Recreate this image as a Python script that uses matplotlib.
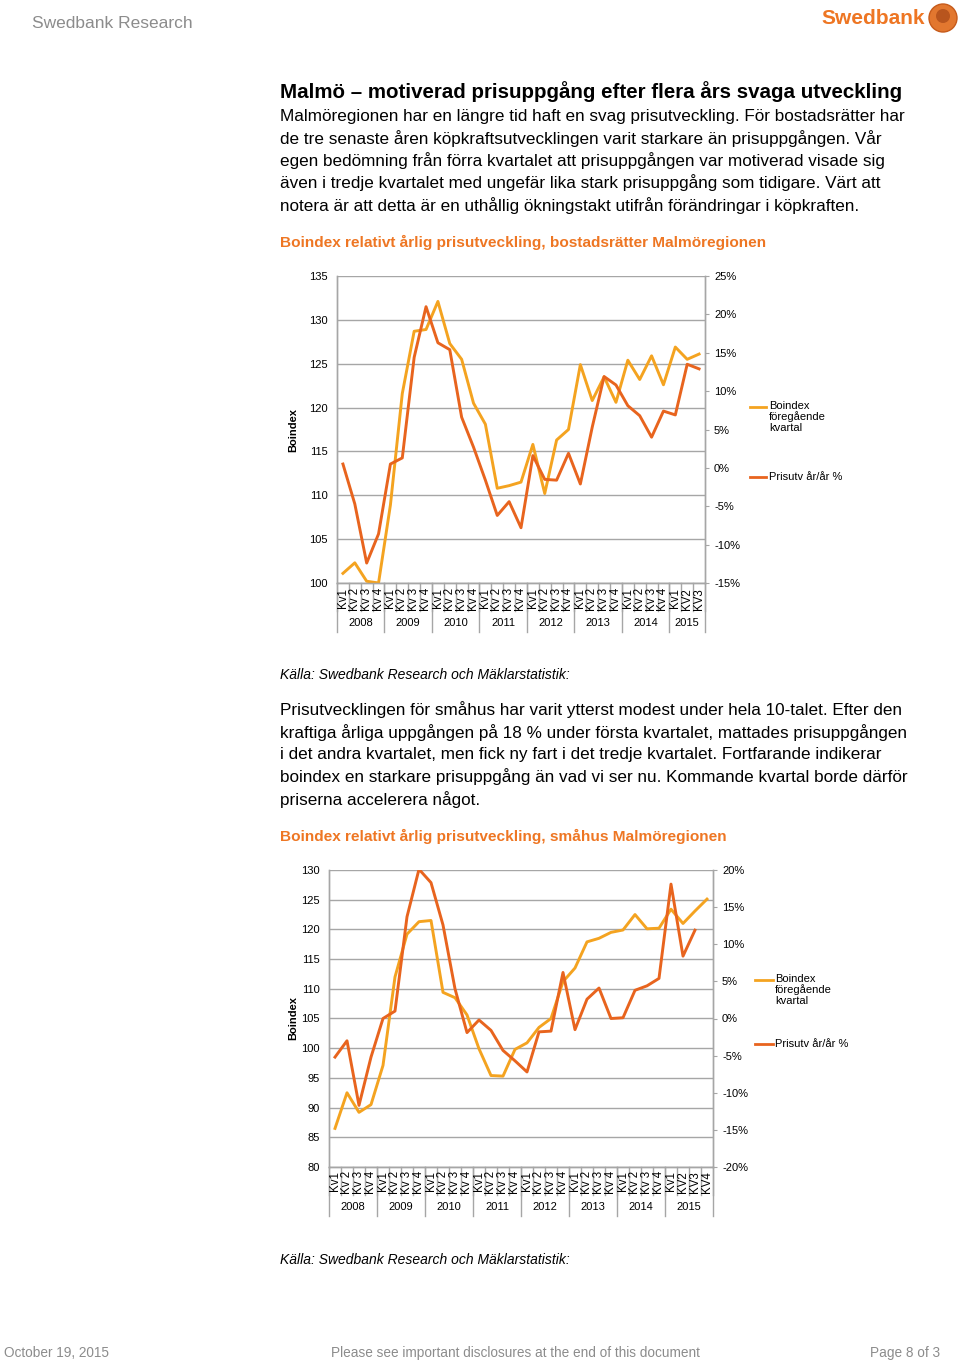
import matplotlib
matplotlib.use("Agg")
import matplotlib.pyplot as plt
from matplotlib.lines import Line2D
from matplotlib.patches import Circle
import matplotlib.transforms as mtransforms

plt.rcParams['font.family'] = ['Liberation Sans', 'DejaVu Sans']

W, H = 960, 1362
LIGHT = '#F4A320'
DARK = '#E8641E'
ORANGE_TXT = '#EE7623'
GRID = '#A6A6A6'

# ---------------- data ----------------
years = ['2008', '2009', '2010', '2011', '2012', '2013', '2014', '2015']
quarters1 = ['Kv1', 'Kv 2', 'Kv 3', 'Kv 4'] * 7 + ['Kv1', 'KV2', 'KV3']
quarters2 = ['Kv1', 'Kv 2', 'Kv 3', 'Kv 4'] * 7 + ['Kv1', 'KV2', 'KV3', 'KV4']
year_counts1 = [4, 4, 4, 4, 4, 4, 4, 3]
year_counts2 = [4, 4, 4, 4, 4, 4, 4, 4]

# Chart 1: bostadsrätter
boindex_br = [101.1, 102.3, 100.2, 100.0, 108.9, 121.6, 128.7, 128.9,
              132.1, 127.3, 125.5, 120.5, 118.1, 110.8, 111.1, 111.5,
              115.8, 110.2, 116.3, 117.5, 124.9, 120.8, 123.5, 120.6,
              125.4, 123.2, 125.9, 122.6, 126.9, 125.5, 126.1]
prisutv_br = [0.5, -4.7, -12.4, -8.6, 0.5, 1.3, 14.4, 21.0,
              16.3, 15.4, 6.6, 2.7, -1.6, -6.2, -4.4, -7.8,
              1.6, -1.5, -1.6, 1.9, -2.1, 5.3, 11.9, 10.8,
              8.1, 6.8, 4.0, 7.4, 6.9, 13.5, 12.9]

# Chart 2: småhus
boindex_sh = [86.5, 92.5, 89.2, 90.5, 97.1, 112.0, 119.2, 121.3,
              121.5, 109.4, 108.5, 105.6, 99.9, 95.4, 95.3, 99.8,
              100.9, 103.5, 105.0, 111.2, 113.5, 117.9, 118.5, 119.5,
              119.9, 122.5, 120.1, 120.2, 123.4, 121.0, 123.1, 125.1]
prisutv_sh = [-5.2, -3.0, -11.7, -5.2, 0.0, 1.0, 13.7, 20.1,
              18.3, 12.6, 4.0, -1.9, -0.2, -1.6, -4.3, -5.7,
              -7.2, -1.8, -1.7, 6.2, -1.5, 2.6, 4.1, 0.0,
              0.1, 3.8, 4.4, 5.4, 18.1, 8.4, 11.9]

left_ticks1 = [100, 105, 110, 115, 120, 125, 130, 135]
right_ticks1 = [-15, -10, -5, 0, 5, 10, 15, 20, 25]
left_ticks2 = [80, 85, 90, 95, 100, 105, 110, 115, 120, 125, 130]
right_ticks2 = [-20, -15, -10, -5, 0, 5, 10, 15, 20]

legend_labels = ['Boindex\nföregående\nkvartal', 'Prisutv år/år %']

# ---------------- helpers ----------------
fig = plt.figure(figsize=(W / 100, H / 100), dpi=100)


def fy(py):
    return 1 - py / H


def fx(px):
    return px / W


def ftext(px, py, s, **kw):
    fig.text(fx(px), fy(py), s, **kw)


def make_chart(rect_px, left_vals, right_vals, quarters, counts, lticks, rticks,
               kv_top, kv_sep_bot, year_y, year_sep_bot, ylabel_x):
    l, t, r, b = rect_px
    ax = fig.add_axes([fx(l), fy(b), fx(r) - fx(l), fy(t) - fy(b)])
    ax2 = ax.twinx()
    n = len(quarters)
    ax.set_xlim(-0.5, n - 0.5)
    ax.set_ylim(lticks[0], lticks[-1])
    ax2.set_ylim(rticks[0], rticks[-1])
    ax.set_yticks(lticks)
    ax.set_yticklabels([str(v) for v in lticks])
    ax2.set_yticks(rticks)
    ax2.set_yticklabels([f'{v}%' for v in rticks])
    ax.set_xticks([])
    for a in (ax, ax2):
        for s in a.spines.values():
            s.set_color(GRID)
            s.set_linewidth(1.0)
        a.spines['top'].set_visible(False)
    ax.tick_params(axis='y', length=0, pad=6.5, labelsize=8, colors='black')
    ax2.tick_params(axis='y', length=3, pad=3.5, labelsize=8, colors='black',
                    color=GRID, direction='out')
    ax.grid(axis='y', color=GRID, linewidth=1.0)
    ax.set_axisbelow(True)
    ax.set_ylabel('Boindex', fontsize=8, fontweight='bold')
    ax.yaxis.set_label_coords((ylabel_x + 5 - l) / (r - l), 0.5)
    xs = list(range(n))
    ax.plot(xs[:len(left_vals)], left_vals, color=LIGHT, lw=2.1, zorder=3)
    ax2.plot(xs[:len(right_vals)], right_vals, color=DARK, lw=2.1, zorder=3)
    ax.patch.set_visible(False)

    tr = mtransforms.blended_transform_factory(ax.transData, fig.transFigure)
    # category separators and labels
    for i in range(n + 1):
        ax.add_line(Line2D([i - 0.5, i - 0.5], [fy(b), fy(kv_sep_bot)],
                           transform=tr, color=GRID, lw=1.0, clip_on=False))
    for i, q in enumerate(quarters):
        ax.text(i, fy(kv_top), q, transform=tr, rotation=90, ha='center',
                va='top', fontsize=8.3)
    # year separators and labels
    pos = -0.5
    bounds = [pos]
    for c in counts:
        pos += c
        bounds.append(pos)
    for xb in bounds:
        ax.add_line(Line2D([xb, xb], [fy(b), fy(year_sep_bot)],
                           transform=tr, color=GRID, lw=1.0, clip_on=False))
    for k, yl in enumerate(years):
        ax.text((bounds[k] + bounds[k + 1]) / 2, fy(year_y), yl, transform=tr,
                ha='center', va='center', fontsize=8)
    return ax, ax2


def legend(x0, x1, xt, y_light, y_dark):
    fig.add_artist(Line2D([fx(x0), fx(x1)], [fy(y_light), fy(y_light)],
                          color=LIGHT, lw=2.0))
    fig.add_artist(Line2D([fx(x0), fx(x1)], [fy(y_dark), fy(y_dark)],
                          color=DARK, lw=2.0))
    ftext(xt, y_light - 6, legend_labels[0], fontsize=8, va='top', ha='left',
          linespacing=1.05)
    ftext(xt, y_dark, legend_labels[1], fontsize=8, va='center', ha='left')


# ---------------- header ----------------
ftext(32, 24, 'Swedbank Research', fontsize=12.5, color='#8C8C8C', va='center')
ftext(925, 18, 'Swedbank', fontsize=15, color=ORANGE_TXT, fontweight='bold',
      va='center', ha='right')
circ = Circle((943 / 100, (H - 18) / 100), 0.14, transform=fig.dpi_scale_trans,
              facecolor='#E2772F', edgecolor='#C65A1A', lw=1.0)
fig.add_artist(circ)
circ2 = Circle((943 / 100, (H - 16) / 100), 0.07, transform=fig.dpi_scale_trans,
               facecolor='#B8551E', edgecolor='none')
fig.add_artist(circ2)

# ---------------- text blocks ----------------
ftext(280, 92, 'Malmö – motiverad prisuppgång efter flera års svaga utveckling',
      fontsize=14.8, fontweight='bold', va='center')
para1 = ['Malmöregionen har en längre tid haft en svag prisutveckling. För bostadsrätter har',
         'de tre senaste åren köpkraftsutvecklingen varit starkare än prisuppgången. Vår',
         'egen bedömning från förra kvartalet att prisuppgången var motiverad visade sig',
         'även i tredje kvartalet med ungefär lika stark prisuppgång som tidigare. Värt att',
         'notera är att detta är en uthållig ökningstakt utifrån förändringar i köpkraften.']
for k, line in enumerate(para1):
    ftext(280, 116 + k * 22.3, line, fontsize=12.3, va='center')

ftext(280, 242, 'Boindex relativt årlig prisutveckling, bostadsrätter Malmöregionen',
      fontsize=11.1, fontweight='bold', color=ORANGE_TXT, va='center')

make_chart((337, 276, 705, 583), boindex_br, prisutv_br, quarters1, year_counts1,
           left_ticks1, right_ticks1, kv_top=588, kv_sep_bot=611, year_y=623,
           year_sep_bot=632, ylabel_x=293)
legend(750, 766, 769, 407, 477)

ftext(280, 675, 'Källa: Swedbank Research och Mäklarstatistik:', fontsize=10,
      style='italic', va='center')

para2 = ['Prisutvecklingen för småhus har varit ytterst modest under hela 10-talet. Efter den',
         'kraftiga årliga uppgången på 18 % under första kvartalet, mattades prisuppgången',
         'i det andra kvartalet, men fick ny fart i det tredje kvartalet. Fortfarande indikerar',
         'boindex en starkare prisuppgång än vad vi ser nu. Kommande kvartal borde därför',
         'priserna accelerera något.']
for k, line in enumerate(para2):
    ftext(280, 710 + k * 22.3, line, fontsize=12.3, va='center')

ftext(280, 836, 'Boindex relativt årlig prisutveckling, småhus Malmöregionen',
      fontsize=11.1, fontweight='bold', color=ORANGE_TXT, va='center')

make_chart((329, 870, 713, 1167), boindex_sh, prisutv_sh, quarters2, year_counts2,
           left_ticks2, right_ticks2, kv_top=1171, kv_sep_bot=1195, year_y=1207,
           year_sep_bot=1216, ylabel_x=293)
legend(755, 773, 775, 980, 1044)

ftext(280, 1260, 'Källa: Swedbank Research och Mäklarstatistik:', fontsize=10,
      style='italic', va='center')

# ---------------- footer ----------------
foot = dict(fontsize=9.8, color='#8C8C8C', va='center',
            family=['Liberation Sans Narrow', 'Liberation Sans'])
ftext(4, 1353, 'October 19, 2015', ha='left', **foot)
ftext(331, 1353, 'Please see important disclosures at the end of this document',
      ha='left', **foot)
ftext(940, 1353, 'Page 8 of 3', ha='right', **foot)

fig.savefig('out.png', dpi=100, facecolor='white')
